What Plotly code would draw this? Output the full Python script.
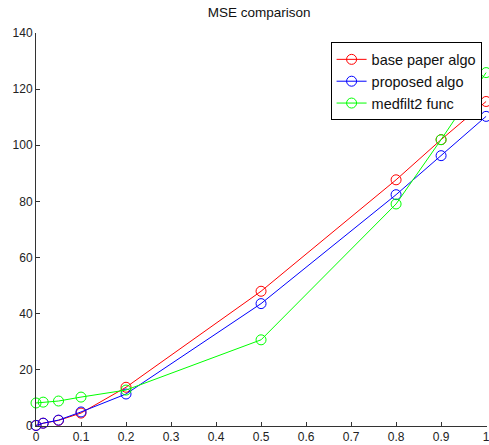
import plotly.graph_objects as go

x_vals = [0, 0.016, 0.05, 0.1, 0.2, 0.5, 0.8, 0.9, 1.0]
base_paper = [0.2, 1.0, 2.0, 4.6, 13.8, 48.0, 87.7, 102.0, 115.6]
proposed = [0.2, 1.0, 2.1, 5.0, 11.4, 43.6, 82.4, 96.3, 110.3]
medfilt2 = [8.2, 8.5, 8.9, 10.3, 12.8, 30.7, 79.1, 102.0, 125.9]
series_names = ["base paper algo", "proposed algo", "medfilt2 func"]
series_colors = ["#ff0000", "#0000ff", "#00ff00"]
x_ticks = [0, 0.1, 0.2, 0.3, 0.4, 0.5, 0.6, 0.7, 0.8, 0.9, 1]
y_ticks = [0, 20, 40, 60, 80, 100, 120, 140]

fig = go.Figure()
for name, ys, col in zip(series_names, [base_paper, proposed, medfilt2], series_colors):
    fig.add_trace(go.Scatter(
        x=x_vals, y=ys, name=name, mode="lines+markers",
        line=dict(color=col, width=1),
        marker=dict(symbol="circle-open", size=10, color=col, line=dict(width=1, color=col)),
        cliponaxis=False,
    ))

fig.update_layout(
    width=489, height=445,
    margin=dict(l=36, r=2, t=33, b=19),
    paper_bgcolor="white", plot_bgcolor="white",
    font=dict(family="Liberation Sans, Arial, sans-serif", size=12, color="#222222"),
    title=dict(text="MSE comparison", x=0.53, xanchor="center", y=0.972, yanchor="middle",
               font=dict(size=13.5, color="#111111")),
    showlegend=True,
    legend=dict(x=0.988, xanchor="right", y=0.976, yanchor="top",
                bordercolor="#000000", borderwidth=1, bgcolor="white",
                font=dict(size=14.5, color="#111111"), tracegroupgap=0),
)
fig.update_xaxes(range=[0, 1.002], tickvals=x_ticks, ticktext=[f"{v:g}" for v in x_ticks],
                 showgrid=False, zeroline=False, showline=True, linecolor="#333333", linewidth=1,
                 ticks="inside", ticklen=4, tickcolor="#333333", automargin=False,
                 ticklabeloverflow="allow")
fig.update_yaxes(range=[0, 140], tickvals=y_ticks, ticktext=[str(v) for v in y_ticks],
                 showgrid=False, zeroline=False, showline=True, linecolor="#333333", linewidth=1,
                 ticks="inside", ticklen=4, tickcolor="#333333", automargin=False,
                 ticklabeloverflow="allow")

fig.write_html("out.html", config={"displayModeBar": False},
               post_script="document.body.style.margin='0';document.body.style.overflow='hidden';")
